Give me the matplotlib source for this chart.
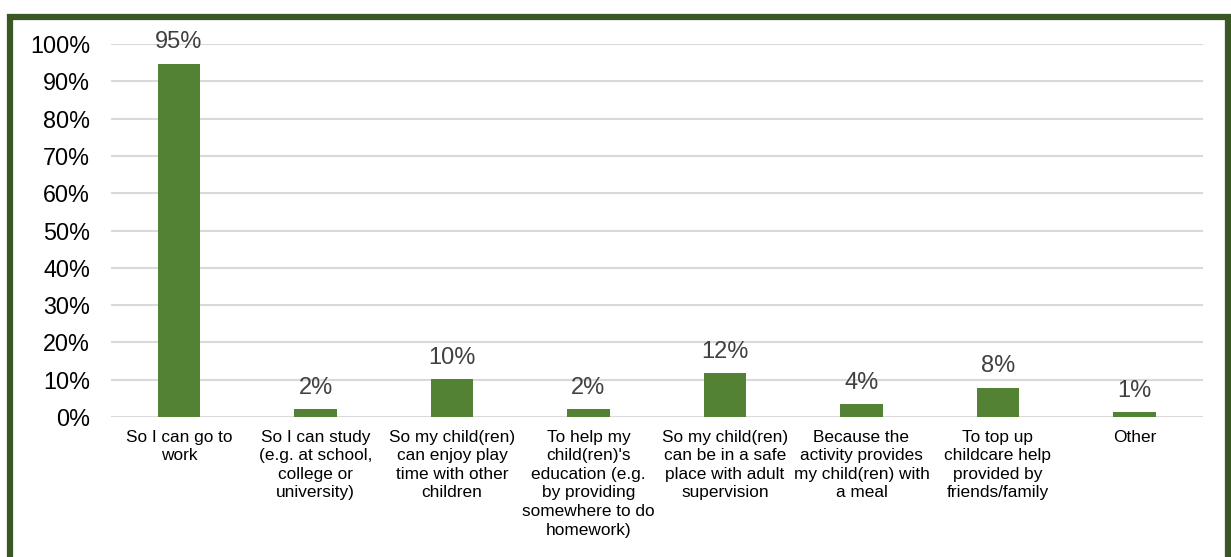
import numpy as np
import matplotlib
matplotlib.use("Agg")
import matplotlib.pyplot as plt
from matplotlib.patches import Rectangle

plt.rcParams["font.family"] = ["Liberation Sans", "DejaVu Sans"]

# données
categories = [
    "So I can go to\nwork",
    "So I can study\n(e.g. at school,\ncollege or\nuniversity)",
    "So my child(ren)\ncan enjoy play\ntime with other\nchildren",
    "To help my\nchild(ren)'s\neducation (e.g.\nby providing\nsomewhere to do\nhomework)",
    "So my child(ren)\ncan be in a safe\nplace with adult\nsupervision",
    "Because the\nactivity provides\nmy child(ren) with\na meal",
    "To top up\nchildcare help\nprovided by\nfriends/family",
    "Other",
]
values = [0.947, 0.021, 0.102, 0.021, 0.117, 0.035, 0.079, 0.013]
labels = ["95%", "2%", "10%", "2%", "12%", "4%", "8%", "1%"]
yticks = [0, 0.1, 0.2, 0.3, 0.4, 0.5, 0.6, 0.7, 0.8, 0.9, 1.0]

fig = plt.figure(figsize=(12.31, 5.57), dpi=100)
ax = fig.add_axes([0.090, 0.2513, 0.887, 0.6697])

x = np.arange(len(categories))
bars = ax.bar(x, values, width=0.31, color="#548235", zorder=3)

for b, lab in zip(bars, labels):
    ax.annotate(lab, (b.get_x() + b.get_width() / 2, b.get_height()),
                xytext=(0, 11), textcoords="offset points",
                ha="center", va="baseline", fontsize=17, color="#404040")

ax.set_xlim(-0.5, len(categories) - 0.5)
ax.set_ylim(0, 1.0)
ax.set_yticks(yticks)
ax.set_yticklabels([f"{int(round(t * 100))}%" for t in yticks])
ax.set_xticks(x)
ax.set_xticklabels(categories, fontsize=12.4, linespacing=1.3, va="top")
ax.tick_params(axis="y", length=0, pad=15, labelsize=16.8)
ax.tick_params(axis="x", length=0, pad=9)
ax.grid(axis="y", color="#d9d9d9", linewidth=1.5, zorder=0)
for s in ax.spines.values():
    s.set_visible(False)

# cadre vert autour de la figure
W, H = 1231, 557
fig.patches.append(Rectangle((10 / W, -20 / H), 1218 / W, (H - 16.5 + 20) / H,
                             transform=fig.transFigure, fill=False,
                             edgecolor="#385723", linewidth=4.5))

fig.savefig("out.png", dpi=100)
